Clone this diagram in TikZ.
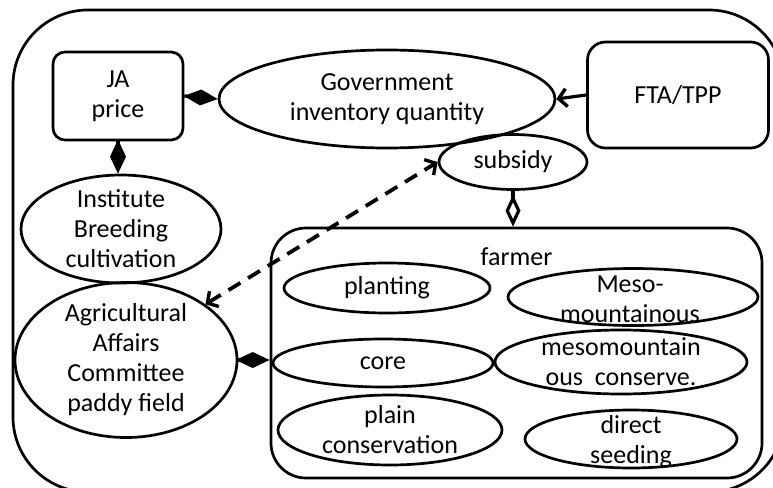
\documentclass[tikz,border=0pt]{standalone}
\usepackage{fontspec}
\setmainfont{Carlito}
\usetikzlibrary{shapes.geometric,arrows.meta}

\tikzset{
  base/.style={draw=black, line width=2.7pt},
  roundbox/.style={base, rectangle, rounded corners=#1, inner sep=0pt, align=center},
  oval/.style={base, ellipse, inner sep=0pt},
  ovaltext/.style={align=center},
  diamondlink/.style={line width=3.2pt, -{Diamond[open, length=32pt, width=15pt]}},
  soliddiamondlink/.style={line width=3.2pt, -{Diamond[length=34pt, width=16pt]}},
  pushlink/.style={line width=3.2pt, -{Straight Barb[length=8pt, width=18pt, line width=3.4pt]}},
  dashlink/.style={line width=3.8pt, dash pattern=on 14pt off 9pt,
    {Straight Barb[length=8pt, width=18pt, line width=3.4pt]}-{Straight Barb[length=8pt, width=18pt, line width=3.4pt]}},
}

\begin{document}
\begin{tikzpicture}[x=1pt, y=-1pt, font=\fontsize{26}{30}\selectfont]
  \useasboundingbox (0,0) rectangle (773,487);
  \clip (0,0) rectangle (773,487);

  % enclosing frame
  \draw[base, rounded corners=75pt] (13,10) rectangle (784,492);

  % top row
  \node[roundbox=12pt, minimum width=130pt, minimum height=88pt] (ja) at (118,96) {JA\\price};
  \node[oval, minimum width=336pt, minimum height=98pt,
        label={[ovaltext]center:Government\\inventory quantity}] (gov) at (387,99) {};
  \node[roundbox=18pt, minimum width=181pt, minimum height=106pt] (fta) at (678,95) {FTA/TPP};
  \node[oval, minimum width=148pt, minimum height=55pt,
        label={[ovaltext]center:subsidy}] (sub) at (513,162) {};

  % left column
  \node[oval, minimum width=200pt, minimum height=108pt,
        label={[ovaltext]center:Institute\\Breeding\\cultivation}] (inst) at (121,229) {};
  \node[oval, minimum width=222pt, minimum height=155pt,
        label={[ovaltext]center:Agricultural\\Affairs\\Committee\\paddy field}] (agr) at (126,360) {};

  % farmer group
  \node[roundbox=35pt, minimum width=491pt, minimum height=250pt,
        label={[anchor=north, yshift=-17pt]north:farmer}] (farm) at (516.5,353) {};
  \node[oval, minimum width=206pt, minimum height=50pt,
        label={[ovaltext]center:planting}] (plant) at (387,288) {};
  \node[oval, minimum width=250pt, minimum height=57pt,
        label={[ovaltext, xshift=-3pt, yshift=-2pt]center:Meso-\\mountainous}] (meso) at (633,297) {};
  \node[oval, minimum width=220pt, minimum height=48pt,
        label={[ovaltext]center:core}] (core) at (383,363) {};
  \node[oval, minimum width=252pt, minimum height=64pt,
        label={[ovaltext]center:mesomountain\\ous~ conserve.}] (mesoc) at (621,362) {};
  \node[oval, minimum width=224pt, minimum height=70pt,
        label={[ovaltext]center:plain\\conservation}] (plain) at (390,430) {};
  \node[oval, minimum width=212pt, minimum height=58pt,
        label={[ovaltext, yshift=-3pt]center:direct\\seeding}] (direct) at (631,439) {};

  % connectors
  \draw[soliddiamondlink] (ja.east) -- (gov.west);
  \draw[soliddiamondlink] (ja.south) -- (ja.south |- inst.north);
  \draw[diamondlink] (sub.south) -- (sub.south |- farm.north);
  \draw[soliddiamondlink] (agr.east) -- (agr.east -| farm.west);
  \draw[pushlink] (fta.west) -- (gov.east);
  \draw[dashlink] (agr.north east) -- (sub.west);
\end{tikzpicture}
\end{document}
